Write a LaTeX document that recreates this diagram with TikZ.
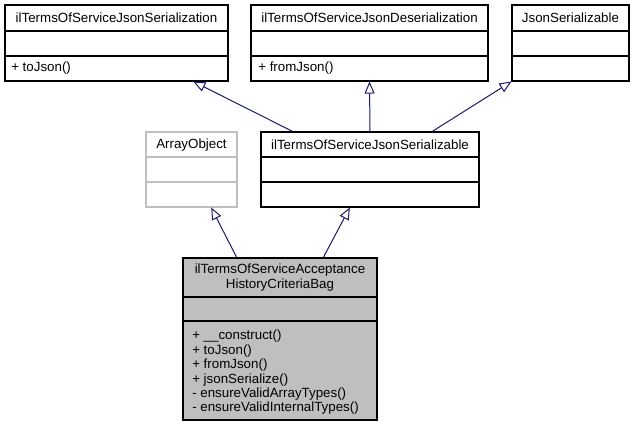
\documentclass[tikz,border=0pt]{standalone}
\usepackage{fontspec}
\setmainfont{Liberation Sans}
\usetikzlibrary{arrows.meta, fit, calc}
\definecolor{edgeblue}{HTML}{191970}
\definecolor{baggray}{HTML}{BFBFBF}
\tikzset{
classbox/.style={draw=black, line width=0.8pt, fill=white, inner sep=0pt}, % a plain class
extbox/.style={classbox, draw=baggray}, % a class from outside the project
mainbox/.style={classbox, fill=baggray}, % the class of this diagram
sep/.style={line width=0.8pt},
title/.style={inner sep=0pt, font=\fontsize{10}{11.25}\selectfont, align=center},
member/.style={inner sep=0pt, anchor=west, font=\fontsize{10}{10.8}\selectfont, align=left},
inherit/.style={draw=edgeblue, line width=0.75pt, -{Triangle[open, length=9pt, width=7.5pt]}},
}

\begin{document}
\begin{tikzpicture}[x=0.75pt, y=-0.75pt]
    \useasboundingbox (0,0) rectangle (635,427);

    % interfaces on top
    \node[classbox, fit={(5,5) (228,81)}] (ser) {};
    \draw[sep] (5,31) -- (228,31) (5,56) -- (228,56);
    \node[title] at (116.5,18) {ilTermsOfServiceJsonSerialization};
    \node[member] at (11,68.5) {+ toJson()};

    \node[classbox, fit={(251,5) (488,81)}] (deser) {};
    \draw[sep] (251,31) -- (488,31) (251,56) -- (488,56);
    \node[title] at (369.5,18) {ilTermsOfServiceJsonDeserialization};
    \node[member] at (258,68.5) {+ fromJson()};

    \node[classbox, fit={(512,5) (629,81)}] (json) {};
    \draw[sep] (512,31) -- (629,31) (512,56) -- (629,56);
    \node[title] at (570.5,18) {JsonSerializable};

    % middle row
    \node[extbox, fit={(146,132) (237,207)}] (arr) {};
    \draw[sep, draw=baggray] (146,157) -- (237,157) (146,182) -- (237,182);
    \node[title] at (191.5,145) {ArrayObject};

    \node[classbox, fit={(261,132) (479,207)}] (jsbl) {};
    \draw[sep] (261,157) -- (479,157) (261,182) -- (479,182);
    \node[title] at (370,145) {ilTermsOfServiceJsonSerializable};

    % the bag itself
    \node[mainbox, fit={(183,258) (377,420)}] (bag) {};
    \draw[sep] (183,297) -- (377,297) (183,321) -- (377,321);
    \node[title] at (280,277.5) {ilTermsOfServiceAcceptance\\HistoryCriteriaBag};
    \node[member, anchor=north west] at (192,330)
        {+ \_\_construct()\\+ toJson()\\+ fromJson()\\+ jsonSerialize()\\- ensureValidArrayTypes()\\- ensureValidInternalTypes()};

    \draw[inherit] ($(bag.north west)!0.278!(bag.north east)$) -- ($(arr.south west)!0.714!(arr.south east)$);
    \draw[inherit] ($(bag.north west)!0.722!(bag.north east)$) -- ($(jsbl.south west)!0.408!(jsbl.south east)$);
    \draw[inherit] ($(jsbl.north west)!0.147!(jsbl.north east)$) -- ($(ser.south west)!0.843!(ser.south east)$);
    \draw[inherit] (jsbl.north) -- (deser.south);
    \draw[inherit] ($(jsbl.north west)!0.784!(jsbl.north east)$) -- (json.south west);
\end{tikzpicture}
\end{document}
